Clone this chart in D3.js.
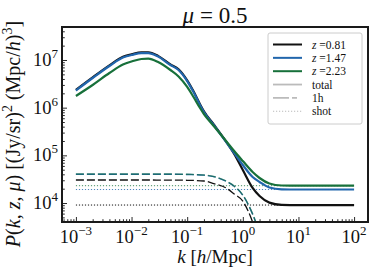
<!DOCTYPE html>
<html>
<head>
<meta charset="utf-8">
<script src="https://cdn.jsdelivr.net/npm/d3@7"></script>
<style>
html,body{margin:0;padding:0;background:#fff;}
svg{display:block;}
text{font-family:"Liberation Serif","Times New Roman",serif;fill:#111;}
</style>
</head>
<body>
<svg id="chart" width="379" height="276"></svg>
<script>
// ---- data ----
const kValues = [0.001, 0.002, 0.004, 0.007, 0.01, 0.015, 0.02, 0.03, 0.05, 0.07, 0.1, 0.13, 0.17, 0.2, 0.3, 0.5, 0.7, 1, 1.5, 2, 3, 5, 10, 100];
const totalZ081 = [2.37e6, 4.33e6, 7.73e6, 1.17e7, 1.31e7, 1.45e7, 1.45e7, 1.22e7, 8.1e6, 6.38e6, 3.74e6, 2.2e6, 1.18e6, 8.35e5, 4.45e5, 1.95e5, 1.07e5, 4.92e4, 2.07e4, 1.40e4, 1.02e4, 9.16e3, 9.07e3, 9.07e3];
const totalZ147 = [2.29e6, 4.19e6, 7.48e6, 1.13e7, 1.27e7, 1.40e7, 1.40e7, 1.18e7, 7.85e6, 6.17e6, 3.62e6, 2.13e6, 1.14e6, 8.11e5, 4.33e5, 1.91e5, 1.12e5, 6.27e4, 3.51e4, 2.76e4, 2.12e4, 1.94e4, 1.92e4, 1.92e4];
const totalZ223 = [1.76e6, 2.99e6, 5.33e6, 8.05e6, 9.31e6, 1.05e7, 1.07e7, 9.08e6, 6.17e6, 4.51e6, 2.72e6, 1.67e6, 9.84e5, 7.36e5, 4.13e5, 2.0e5, 1.23e5, 7.6e4, 4.47e4, 3.35e4, 2.57e4, 2.33e4, 2.31e4, 2.31e4];

const oneHaloK = [0.001, 0.01, 0.05, 0.1, 0.2, 0.3, 0.5, 0.7, 1, 1.5, 2, 3];
const oneHaloZ081 = [3.04e4, 3.04e4, 3.03e4, 3.0e4, 2.9e4, 2.56e4, 2.07e4, 1.55e4, 1.10e4, 4.0e3, 1.5e3, 3e2];
const oneHaloZ147 = [4.02e4, 4.02e4, 4.01e4, 3.97e4, 3.84e4, 3.57e4, 2.87e4, 2.25e4, 1.46e4, 5.85e3, 2.42e3, 8e2];
const oneHaloZ223 = [4.06e4, 4.06e4, 4.05e4, 4.0e4, 3.87e4, 3.60e4, 2.90e4, 2.27e4, 1.47e4, 5.9e3, 2.45e3, 8e2];

const shotK = [0.001, 100];
const shotZ081 = [9.07e3, 9.07e3];
const shotZ147 = [1.92e4, 1.92e4];
const shotZ223 = [2.31e4, 2.31e4];

const redshiftLabels = ["0.81", "1.47", "2.23"];
const xTickExps = [-3, -2, -1, 0, 1, 2];
const yTickExps = [4, 5, 6, 7];

// ---- layout ----
const svg = d3.select("#chart");
const L = 62, R = 368, T = 27, B = 222;
const colors = ["#111111", "#2166ac", "#17703a"];

const x = d3.scaleLog().domain([Math.pow(10, -3.25), Math.pow(10, 2.25)]).range([L, R]);
const y = d3.scaleLog().domain([Math.pow(10, 3.602), Math.pow(10, 7.692)]).range([B, T]);

svg.append("defs").append("clipPath").attr("id", "clip")
  .append("rect").attr("x", L).attr("y", T).attr("width", R - L).attr("height", B - T);

const plot = svg.append("g").attr("clip-path", "url(#clip)");

const line = d3.line().x(d => x(d[0])).y(d => y(d[1])).curve(d3.curveMonotoneX);

function addSeries(ks, vals, color, width, dash, opacity) {
  plot.append("path")
    .datum(ks.map((k, i) => [k, vals[i]]))
    .attr("d", line)
    .attr("fill", "none")
    .attr("stroke", color)
    .attr("stroke-width", width)
    .attr("stroke-dasharray", dash || null)
    .attr("stroke-opacity", opacity || 1);
}

// shot noise (dotted)
addSeries(shotK, shotZ081, colors[0], 1, "1.2,1.8");
addSeries(shotK, shotZ147, colors[1], 1, "1.2,1.8", 0.8);
addSeries(shotK, shotZ223, colors[2], 1, "1.2,1.8", 0.8);
// one halo (dashed)
addSeries(oneHaloK, oneHaloZ081, colors[0], 1.3, "8,3");
addSeries(oneHaloK, oneHaloZ147, colors[1], 1.4, "8,3");
addSeries(oneHaloK, oneHaloZ223, colors[2], 1.4, "8,3", 0.6);
// totals
addSeries(kValues, totalZ081, colors[0], 2.2);
addSeries(kValues, totalZ147, colors[1], 2.2);
addSeries(kValues, totalZ223, colors[2], 2.2);

// ---- axes ticks ----
const xMajor = xTickExps.map(e => Math.pow(10, e));
const xMinor = [];
for (let e = -4; e <= 2; e++) for (let m = 2; m <= 9; m++) {
  const v = m * Math.pow(10, e);
  if (v >= x.domain()[0] && v <= x.domain()[1]) xMinor.push(v);
}
const yMajor = yTickExps.map(e => Math.pow(10, e));
const yMinor = [];
for (let e = 3; e <= 7; e++) for (let m = 2; m <= 9; m++) {
  const v = m * Math.pow(10, e);
  if (v >= y.domain()[0] && v <= y.domain()[1]) yMinor.push(v);
}

function styleAxis(g) {
  g.select(".domain").remove();
  g.selectAll(".tick text").remove();
  g.selectAll(".tick line").attr("stroke", "#111").attr("stroke-width", 0.9);
}
svg.append("g").attr("transform", `translate(0,${B})`)
  .call(d3.axisBottom(x).tickValues(xMajor).tickSize(-5).tickFormat(""))
  .call(styleAxis);
svg.append("g").attr("transform", `translate(0,${B})`)
  .call(d3.axisBottom(x).tickValues(xMinor).tickSize(-2.8).tickFormat(""))
  .call(styleAxis);
svg.append("g").attr("transform", `translate(${L},0)`)
  .call(d3.axisLeft(y).tickValues(yMajor).tickSize(-5).tickFormat(""))
  .call(styleAxis);
svg.append("g").attr("transform", `translate(${L},0)`)
  .call(d3.axisLeft(y).tickValues(yMinor).tickSize(-2.8).tickFormat(""))
  .call(styleAxis);

// frame
svg.append("rect").attr("x", L).attr("y", T).attr("width", R - L).attr("height", B - T)
  .attr("fill", "none").attr("stroke", "#1a1a1a").attr("stroke-width", 2);

// tick labels
const fmtExp = e => (e < 0 ? "\u2212" + Math.abs(e) : String(e));
xTickExps.forEach(e => {
  const t = svg.append("text").attr("x", x(Math.pow(10, e))).attr("y", 243)
    .attr("text-anchor", "middle").attr("font-size", 18.5);
  t.append("tspan").text("10");
  t.append("tspan").attr("font-size", 13).attr("dy", -8).text(fmtExp(e));
});
yTickExps.forEach(e => {
  const t = svg.append("text").attr("x", 58).attr("y", y(Math.pow(10, e)) + 6)
    .attr("text-anchor", "end").attr("font-size", 18.5);
  t.append("tspan").text("10");
  t.append("tspan").attr("font-size", 13).attr("dy", -8).text(fmtExp(e));
});

// title
const title = svg.append("text").attr("x", (L + R) / 2).attr("y", 23)
  .attr("text-anchor", "middle").attr("font-size", 23);
title.append("tspan").attr("font-style", "italic").text("\u03bc");
title.append("tspan").text(" = 0.5");

// x label
const xl = svg.append("text").attr("x", (L + R) / 2).attr("y", 263)
  .attr("text-anchor", "middle").attr("font-size", 19);
xl.append("tspan").attr("font-style", "italic").text("k");
xl.append("tspan").text(" [");
xl.append("tspan").attr("font-style", "italic").text("h");
xl.append("tspan").text("/Mpc]");

// y label
const yl = svg.append("text").attr("transform", "translate(19.5,134) rotate(-90)")
  .attr("text-anchor", "middle").attr("font-size", 20);
yl.append("tspan").attr("font-style", "italic").text("P");
yl.append("tspan").text("(");
yl.append("tspan").attr("font-style", "italic").text("k");
yl.append("tspan").text(", ");
yl.append("tspan").attr("font-style", "italic").text("z");
yl.append("tspan").text(", ");
yl.append("tspan").attr("font-style", "italic").text("\u03bc");
yl.append("tspan").text(") [(Jy/sr)");
yl.append("tspan").attr("font-size", 14).attr("dy", -8).text("2");
yl.append("tspan").attr("dy", 8).text(" (Mpc/");
yl.append("tspan").attr("font-style", "italic").text("h");
yl.append("tspan").text(")");
yl.append("tspan").attr("font-size", 14).attr("dy", -8).text("3");
yl.append("tspan").attr("dy", 8).text("]");

// legend
const lg = svg.append("g");
lg.append("rect").attr("x", 268).attr("y", 33).attr("width", 94).attr("height", 91)
  .attr("rx", 2).attr("fill", "#fff").attr("fill-opacity", 0.85)
  .attr("stroke", "#cccccc").attr("stroke-width", 1);
const rowY = i => 44.5 + i * 13.35;
redshiftLabels.forEach((lab, i) => {
  lg.append("line").attr("x1", 273).attr("x2", 302).attr("y1", rowY(i)).attr("y2", rowY(i))
    .attr("stroke", colors[i]).attr("stroke-width", 2);
  const t = lg.append("text").attr("x", 312).attr("y", rowY(i) + 4).attr("font-size", 11.5);
  t.append("tspan").attr("font-style", "italic").text("z");
  t.append("tspan").text(" =" + lab);
});
const styleRows = [["total", null, 1.8], ["1h", "16,3,5", 1.6], ["shot", "1.2,1.8", 1.2]];
styleRows.forEach((s, j) => {
  const i = j + 3;
  lg.append("line").attr("x1", 273).attr("x2", 302).attr("y1", rowY(i)).attr("y2", rowY(i))
    .attr("stroke", "#bbbbbb").attr("stroke-width", s[2]).attr("stroke-dasharray", s[1]);
  lg.append("text").attr("x", 312).attr("y", rowY(i) + 4).attr("font-size", 11.5).text(s[0]);
});
</script>
</body>
</html>
